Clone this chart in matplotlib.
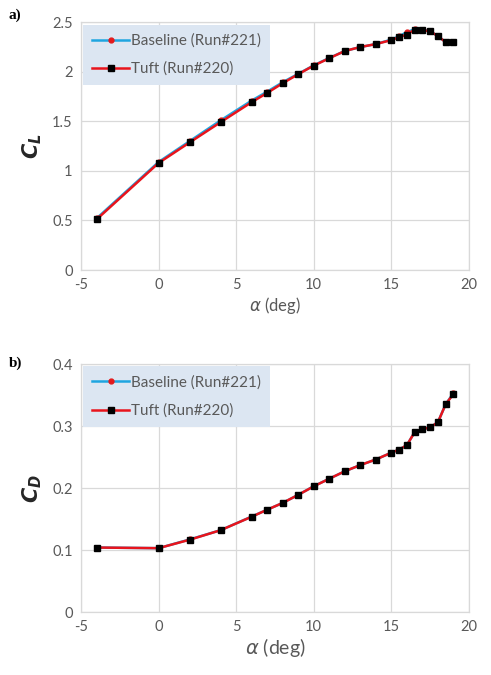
import matplotlib.pyplot as plt

plt.rcParams['font.family'] = ['Lato', 'DejaVu Sans']
plt.rcParams['axes.unicode_minus'] = False

# angle of attack (deg)
alpha = [-4, 0, 2, 4, 6, 7, 8, 9, 10, 11, 12, 13, 14, 15, 15.5, 16, 16.5, 17, 17.5, 18, 18.5, 19]

# lift coefficient
cl_base = [0.52, 1.09, 1.30, 1.51, 1.71, 1.80, 1.895, 1.98, 2.065, 2.14, 2.21, 2.25, 2.28, 2.325,
           2.36, 2.40, 2.43, 2.425, 2.41, 2.36, 2.30, 2.30]
cl_tuft = [0.51, 1.08, 1.287, 1.492, 1.694, 1.787, 1.885, 1.976, 2.063, 2.137, 2.21, 2.25, 2.28, 2.32,
           2.35, 2.376, 2.426, 2.42, 2.41, 2.36, 2.30, 2.30]

# drag coefficient
cd_base = [0.104, 0.103, 0.117, 0.132, 0.154, 0.165, 0.176, 0.189, 0.203, 0.215, 0.227, 0.237, 0.246,
           0.257, 0.262, 0.269, 0.290, 0.295, 0.298, 0.306, 0.335, 0.353]
cd_tuft = [0.104, 0.103, 0.1166, 0.132, 0.1537, 0.165, 0.176, 0.189, 0.2027, 0.215, 0.227, 0.237, 0.246,
           0.257, 0.262, 0.269, 0.290, 0.2946, 0.298, 0.306, 0.335, 0.3516]

labels = ["Baseline (Run#221)", "Tuft (Run#220)"]

grey = "#595959"
gridc = "#d9d9d9"

fig = plt.figure(figsize=(4.91, 6.75), dpi=100)
ax1 = fig.add_axes([0.165, 0.600, 0.790, 0.367])
ax2 = fig.add_axes([0.165, 0.0933, 0.790, 0.3674])


def style(ax, ylim, yticks):
    ax.set_xlim(-5, 20)
    ax.set_ylim(*ylim)
    ax.set_xticks(range(-5, 21, 5))
    ax.set_yticks(yticks)
    ax.grid(True, color=gridc, linewidth=0.9)
    ax.set_axisbelow(True)
    for s in ax.spines.values():
        s.set_color(gridc)
        s.set_linewidth(0.9)
    ax.tick_params(length=0, colors=grey, labelsize=10.5, pad=6)


def draw(ax, base, tuft):
    ax.plot(alpha, base, color="#1fa5e0", lw=1.8, marker="o", ms=3.5,
            mfc="#e41a1c", mec="#e41a1c", label=labels[0])
    ax.plot(alpha, tuft, color="#e8141c", lw=1.8, marker="s", ms=4.5,
            mfc="black", mec="black", label=labels[1])
    leg = ax.legend(loc="upper left", bbox_to_anchor=(0.0, 1.0), frameon=True,
                    fancybox=False, fontsize=11, handlelength=2.4, handletextpad=0.1,
                    borderaxespad=0.15, labelspacing=0.9, borderpad=0.6)
    leg.get_frame().set_facecolor("#dce6f2")
    leg.get_frame().set_edgecolor("none")
    leg.get_frame().set_alpha(1)
    for t in leg.get_texts():
        t.set_color(grey)


draw(ax1, cl_base, cl_tuft)
style(ax1, (0, 2.5), [0, 0.5, 1, 1.5, 2, 2.5])
ax1.set_yticklabels(["0", "0.5", "1", "1.5", "2", "2.5"])
ax1.set_xlabel(r"$\alpha$ (deg)", color=grey, fontsize=12, labelpad=2)
ax1.set_ylabel(r"$\mathbfit{C_L}$", color="#262626", fontsize=15, labelpad=6)

draw(ax2, cd_base, cd_tuft)
style(ax2, (0, 0.4), [0, 0.1, 0.2, 0.3, 0.4])
ax2.set_yticklabels(["0", "0.1", "0.2", "0.3", "0.4"])
ax2.set_xlabel(r"$\alpha$ (deg)", color=grey, fontsize=14, labelpad=1)
ax2.set_ylabel(r"$\mathbfit{C_D}$", color="#262626", fontsize=15, labelpad=6)

fig.text(0.018, 0.972, "a)", family="Liberation Serif", fontweight="bold", fontsize=11)
fig.text(0.018, 0.456, "b)", family="Liberation Serif", fontweight="bold", fontsize=11)

fig.savefig("out.png", dpi=100)
